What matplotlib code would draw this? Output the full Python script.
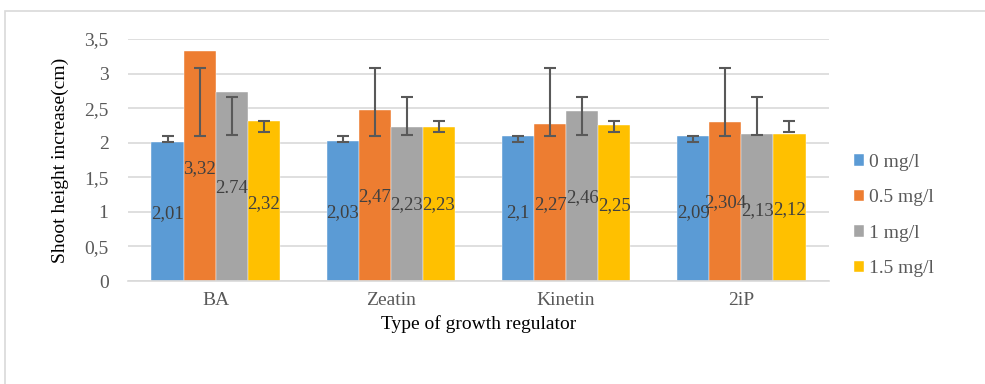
import matplotlib.pyplot as plt
import numpy as np
from matplotlib.patches import Rectangle

plt.rcParams['font.family'] = ['Liberation Serif', 'DejaVu Serif']

# growth regulators on the x axis
regulators = ['BA', 'Zeatin', 'Kinetin', '2iP']
doses = ['0 mg/l', '0.5 mg/l', '1 mg/l', '1.5 mg/l']

# bar heights per dose, one value per regulator
dose_0 = [2.01, 2.03, 2.10, 2.09]
dose_05 = [3.32, 2.47, 2.27, 2.304]
dose_1 = [2.74, 2.23, 2.46, 2.13]
dose_15 = [2.32, 2.23, 2.25, 2.12]

# data label texts as printed on the chart
labels_0 = ['2,01', '2,03', '2,1', '2,09']
labels_05 = ['3,32', '2,47', '2,27', '2,304']
labels_1 = ['2.74', '2,23', '2,46', '2,13']
labels_15 = ['2,32', '2,23', '2,25', '2,12']

# error bar ranges (low, high) per dose
err_low_0 = [2.01, 2.01, 2.01, 2.01]
err_high_0 = [2.10, 2.10, 2.10, 2.10]
err_low_05 = [2.09, 2.09, 2.09, 2.09]
err_high_05 = [3.08, 3.08, 3.08, 3.08]
err_low_1 = [2.11, 2.11, 2.11, 2.11]
err_high_1 = [2.66, 2.66, 2.66, 2.66]
err_low_15 = [2.15, 2.15, 2.15, 2.15]
err_high_15 = [2.31, 2.31, 2.31, 2.31]

# where the data labels sit (in data units)
label_y_0 = [0.98, 0.99, 0.99, 0.99]
label_y_05 = [1.62, 1.22, 1.10, 1.13]
label_y_1 = [1.34, 1.10, 1.20, 1.02]
label_y_15 = [1.12, 1.10, 1.09, 1.03]

yticks = [0, 0.5, 1, 1.5, 2, 2.5, 3, 3.5]
ytick_labels = ['0', '0,5', '1', '1,5', '2', '2,5', '3', '3,5']

colors = ['#5B9BD5', '#ED7D31', '#A5A5A5', '#FFC000']

series = [dose_0, dose_05, dose_1, dose_15]
texts = [labels_0, labels_05, labels_1, labels_15]
lows = [err_low_0, err_low_05, err_low_1, err_low_15]
highs = [err_high_0, err_high_05, err_high_1, err_high_15]
label_ys = [label_y_0, label_y_05, label_y_1, label_y_15]

fig = plt.figure(figsize=(9.85, 3.84), dpi=100)
# outer chart border
fig.patches.append(Rectangle((5 / 985, -0.05), 1.1, 1 - 11 / 384 + 0.05,
                             transform=fig.transFigure, fill=False,
                             edgecolor='#D9D9D9', linewidth=1.2))

ax = fig.add_axes([128 / 985, 1 - 281 / 384, 701 / 985, 242 / 384])

x = np.arange(len(regulators))
width = 0.183

for i in range(len(series)):
    pos = x + (i - 1.5) * width
    vals = np.array(series[i])
    ax.bar(pos, vals, width, color=colors[i], label=doses[i], zorder=2,
           edgecolor='white', linewidth=0.3)
    lo = np.array(lows[i])
    hi = np.array(highs[i])
    mid = (lo + hi) / 2
    ax.errorbar(pos, mid, yerr=(hi - lo) / 2, fmt='none', ecolor='#595959',
                elinewidth=1.5, capsize=4.5, capthick=1.5, zorder=3)
    for j in range(len(pos)):
        ax.text(pos[j], label_ys[i][j], texts[i][j], ha='center', va='center',
                fontsize=13.5, color='#404040', zorder=4)

ax.set_xlim(-0.5, len(regulators) - 0.5)
ax.set_ylim(0, 3.5)
ax.set_yticks(yticks)
ax.set_yticklabels(ytick_labels)
ax.set_xticks(x)
ax.set_xticklabels(regulators)
ax.tick_params(length=0, labelsize=14, labelcolor='#595959')
ax.tick_params(axis='x', pad=8)
ax.tick_params(axis='y', pad=14)
ax.yaxis.grid(True, color='#D9D9D9', linewidth=1.2, zorder=0)
ax.set_axisbelow(True)
for side in ['top', 'right', 'left']:
    ax.spines[side].set_visible(False)
ax.spines['bottom'].set_color('#D9D9D9')
ax.spines['bottom'].set_linewidth(1.2)

ax.set_xlabel('Type of growth regulator', fontsize=14, labelpad=4)
ax.set_ylabel('Shoot height increase(cm)', fontsize=14, labelpad=11)

ax.legend(loc='center left', bbox_to_anchor=(1.01, 0.27), frameon=False,
          fontsize=14, handlelength=0.55, handleheight=0.55, handletextpad=0.25,
          labelspacing=0.95, labelcolor='#595959')

fig.savefig('out.png', dpi=100)
